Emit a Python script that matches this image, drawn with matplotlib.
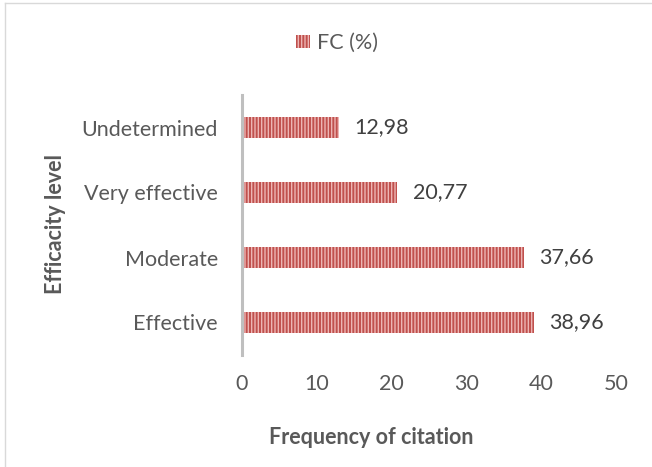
import matplotlib
matplotlib.use("Agg")
import matplotlib.pyplot as plt
from matplotlib.lines import Line2D

# Efficacy levels (bottom to top) and their frequency of citation (%)
categories = ["Effective", "Moderate", "Very effective", "Undetermined"]
fc_values = [38.96, 37.66, 20.77, 12.98]
value_labels = ["38,96", "37,66", "20,77", "12,98"]
x_ticks = [0, 10, 20, 30, 40, 50]

W, H = 652, 467
plt.rcParams["font.family"] = ["Lato", "DejaVu Sans"]
plt.rcParams["hatch.linewidth"] = 1.0

fig = plt.figure(figsize=(W / 100, H / 100), dpi=100)
ax = fig.add_axes([241.5 / W, 1 - 355 / H, 375.2 / W, 260 / H])

bar_color = "#C0504D"
stripe_color = "#EDB5B4"
ax.barh(range(len(categories)), fc_values, height=0.31, color=bar_color,
        edgecolor=stripe_color, linewidth=0, hatch="|||||", label="FC (%)")

for i, (v, txt) in enumerate(zip(fc_values, value_labels)):
    ax.annotate(txt, xy=(v, i), xytext=(11, 0), textcoords="offset points",
                ha="left", va="center", fontsize=15.5, color="#404040")

ax.set_xlim(0, 50)
ax.set_ylim(-0.5, len(categories) - 0.5)
ax.set_xticks(x_ticks)
ax.set_xticklabels([str(t) for t in x_ticks])
ax.set_yticks(range(len(categories)))
ax.set_yticklabels(categories)
ax.tick_params(axis="both", length=0, labelsize=15.5, labelcolor="#595959")
ax.tick_params(axis="y", pad=17)
ax.tick_params(axis="x", pad=14)

for s in ["top", "right", "bottom"]:
    ax.spines[s].set_visible(False)
ax.spines["left"].set_color("#BFBFBF")
ax.spines["left"].set_linewidth(2.2)

fig.text(371.5 / W, 1 - 438 / H, "Frequency of citation", ha="center",
         va="center", fontsize=15.5, fontweight="bold", color="#595959")
fig.text(55 / W, 1 - 224 / H, "Efficacity level", ha="center", va="center",
         rotation=90, fontsize=15.5, fontweight="bold", color="#595959")

fig.legend(loc="center", bbox_to_anchor=(337 / W, 1 - 43 / H), frameon=False,
           fontsize=15.5, handlelength=0.65, handleheight=0.6,
           handletextpad=0.3, labelcolor="#595959")

# thin chart-area frame
fig.add_artist(Line2D([5 / W, 1], [1 - 3 / H, 1 - 3 / H], color="#D9D9D9",
                      linewidth=1, transform=fig.transFigure))
fig.add_artist(Line2D([5 / W, 5 / W], [0, 1 - 3 / H], color="#D9D9D9",
                      linewidth=1, transform=fig.transFigure))

fig.savefig("out.png", dpi=100)
